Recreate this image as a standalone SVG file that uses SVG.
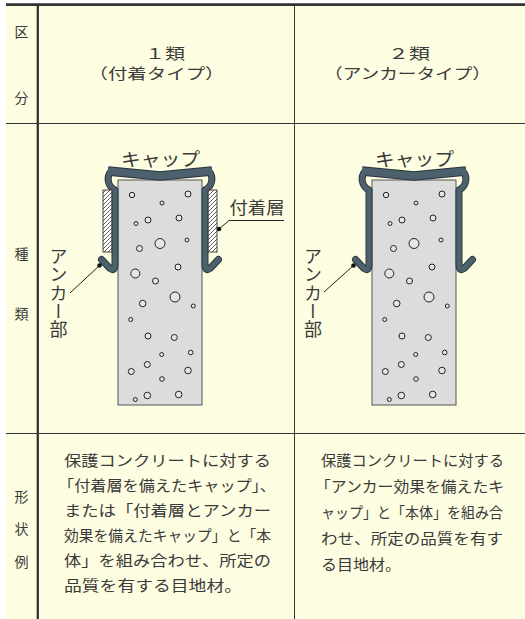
<svg xmlns="http://www.w3.org/2000/svg" width="525" height="619" viewBox="0 0 525 619">
<style>
text { font-family: "Noto Sans CJK JP", "Noto Sans CJK SC", sans-serif; fill: #3a3a3a; }
.lbl { font-size: 14px; text-anchor: middle; }
.hd { font-size: 15px; }
.tx { font-size: 15px; }
.dl { font-size: 18px; }
.vt { font-size: 18px; writing-mode: vertical-rl; letter-spacing: 0.4px; }
.grid { stroke: #333; fill: none; }
.cap-o { fill: none; stroke: #27343c; stroke-linejoin: round; stroke-linecap: round; }
.cap-i { fill: none; stroke: #4d616d; stroke-linejoin: round; stroke-linecap: round; }
.bub { fill: #e6e6e6; stroke: #222; stroke-width: 1; }
.lead { stroke: #222; stroke-width: 1; fill: none; }
.dot { fill: #111; }
</style>
<defs>
<pattern id="hatch" patternUnits="userSpaceOnUse" width="4" height="4">
<rect width="4" height="4" fill="#fff"/>
<path d="M-1,1 L1,-1 M0,4 L4,0 M3,5 L5,3" stroke="#333" stroke-width="0.8"/>
</pattern>
<g id="unit">
<rect x="118" y="180" width="84" height="225" fill="#dcdcdc" stroke="#555" stroke-width="1"/>
<g class="bub">
<circle cx="132" cy="195" r="2.7"/><circle cx="188" cy="194" r="3"/><circle cx="162" cy="203" r="2"/>
<circle cx="148" cy="220" r="3"/><circle cx="136" cy="223.5" r="2"/><circle cx="179" cy="218" r="3"/>
<circle cx="160" cy="243.5" r="5"/><circle cx="139.5" cy="248.5" r="3"/><circle cx="187" cy="240" r="2"/>
<circle cx="178" cy="267" r="3"/><circle cx="135.3" cy="273.5" r="4.5"/><circle cx="155.5" cy="281" r="3"/>
<circle cx="175" cy="297" r="5"/><circle cx="142.7" cy="303.5" r="3.3"/><circle cx="193.3" cy="306" r="2"/>
<circle cx="130.7" cy="319.5" r="2"/><circle cx="148" cy="336" r="3"/><circle cx="174.3" cy="337.5" r="3"/>
<circle cx="161.7" cy="354.5" r="2"/><circle cx="190.7" cy="352.5" r="2.3"/><circle cx="147.3" cy="364.5" r="3"/>
<circle cx="131.3" cy="371.5" r="3"/><circle cx="188" cy="370.5" r="3.3"/><circle cx="162" cy="379" r="2.3"/>
<circle cx="147.3" cy="395.5" r="3.3"/><circle cx="135.3" cy="399.5" r="2"/><circle cx="178.7" cy="394.5" r="3.3"/>
</g>
<g class="cap-o">
<path d="M108,171 L160,176 L212,171" stroke-width="9.5" stroke-linecap="butt"/>
<path d="M111,171.5 C106.5,176 107,186 115,190 L115,264 Q115,272 110,268.5 L101.5,259.5" stroke-width="7"/>
<path d="M209,171.5 C213.5,176 213,186 205,190 L205,264 Q205,272 210,268.5 L218.5,259.5" stroke-width="7"/>
</g>
<g class="cap-i">
<path d="M108,171 L160,176 L212,171" stroke-width="7.5" stroke-linecap="butt"/>
<path d="M111,171.5 C106.5,176 107,186 115,190 L115,264 Q115,272 110,268.5 L101.5,259.5" stroke-width="5.2"/>
<path d="M209,171.5 C213.5,176 213,186 205,190 L205,264 Q205,272 210,268.5 L218.5,259.5" stroke-width="5.2"/>
</g>
</g>
</defs>

<rect x="0" y="0" width="525" height="619" fill="#ffffff"/>
<rect x="6" y="4" width="519" height="615" fill="#fdfde1"/>

<g id="grid">
<path class="grid" d="M6,4.6 H525" stroke-width="2.6"/>
<path class="grid" d="M37.8,4 V619" stroke-width="2.3" stroke="#222"/>
<path class="grid" d="M294.5,4 V619" stroke-width="1" stroke="#555"/>
<path class="grid" d="M6,123.5 H525" stroke-width="1"/>
<path class="grid" d="M6,433.5 H525" stroke-width="1"/>
</g>

<g id="row-labels">
<text class="lbl" x="21.5" y="36.5">区</text>
<text class="lbl" x="21.5" y="102.5">分</text>
<text class="lbl" x="21.5" y="258.5">種</text>
<text class="lbl" x="21.5" y="318.5">類</text>
<text class="lbl" x="21.5" y="501.5">形</text>
<text class="lbl" x="21.5" y="534">状</text>
<text class="lbl" x="21.5" y="566.5">例</text>
</g>

<g id="header-type1">
<text class="hd" x="145" y="59" textLength="40" lengthAdjust="spacingAndGlyphs">１類</text>
<text class="hd" x="88.5" y="78.5" textLength="136" lengthAdjust="spacingAndGlyphs">（付着タイプ）</text>
</g>
<g id="header-type2">
<text class="hd" x="388" y="59" textLength="42" lengthAdjust="spacingAndGlyphs">２類</text>
<text class="hd" x="324" y="78.5" textLength="167" lengthAdjust="spacingAndGlyphs">（アンカータイプ）</text>
</g>

<g id="joint-type1">
<use href="#unit"/>
<rect x="103" y="190" width="8.8" height="62" fill="url(#hatch)" stroke="#333" stroke-width="0.9"/>
<rect x="208.2" y="190" width="8.8" height="62" fill="url(#hatch)" stroke="#333" stroke-width="0.9"/>
<text class="dl" x="121" y="166" textLength="79" lengthAdjust="spacingAndGlyphs">キャップ</text>
<text class="dl" x="229.5" y="214" textLength="55" lengthAdjust="spacingAndGlyphs" style="font-size:16.5px">付着層</text>
<text class="vt" x="58.5" y="247">アンカー部</text>
</g>

<g id="joint-type2">
<use href="#unit" transform="translate(254,0)"/>
<text class="dl" x="375" y="166" textLength="79" lengthAdjust="spacingAndGlyphs">キャップ</text>
<text class="vt" x="313" y="247">アンカー部</text>
</g>

<g id="connectors">
<path class="lead" d="M99.5,265.5 L70,293"/>
<circle class="dot" cx="99.5" cy="265.5" r="2.3"/>
<path class="lead" d="M353.5,265.5 L324,292"/>
<circle class="dot" cx="353.5" cy="265.5" r="2.3"/>
<path class="lead" d="M219,229 L229,220.5 H284"/>
<circle class="dot" cx="219" cy="229" r="2.3"/>
</g>

<g id="desc-type1">
<text class="tx" x="64" y="466" textLength="207" lengthAdjust="spacingAndGlyphs">保護コンクリートに対する</text>
<text class="tx" x="58" y="491" textLength="218" lengthAdjust="spacingAndGlyphs">「付着層を備えたキャップ」、</text>
<text class="tx" x="64" y="516" textLength="207" lengthAdjust="spacingAndGlyphs">または「付着層とアンカー</text>
<text class="tx" x="64" y="541" textLength="207" lengthAdjust="spacingAndGlyphs">効果を備えたキャップ」と「本</text>
<text class="tx" x="64" y="566" textLength="207" lengthAdjust="spacingAndGlyphs">体」を組み合わせ、所定の</text>
<text class="tx" x="64" y="591" textLength="178" lengthAdjust="spacingAndGlyphs">品質を有する目地材。</text>
</g>

<g id="desc-type2">
<text class="tx" x="321" y="466" textLength="183" lengthAdjust="spacingAndGlyphs">保護コンクリートに対する</text>
<text class="tx" x="315" y="492" textLength="189" lengthAdjust="spacingAndGlyphs">「アンカー効果を備えたキ</text>
<text class="tx" x="321" y="518" textLength="182" lengthAdjust="spacingAndGlyphs">ャップ」と「本体」を組み合</text>
<text class="tx" x="321" y="544" textLength="182" lengthAdjust="spacingAndGlyphs">わせ、所定の品質を有す</text>
<text class="tx" x="321" y="570" textLength="80" lengthAdjust="spacingAndGlyphs">る目地材。</text>
</g>
</svg>
